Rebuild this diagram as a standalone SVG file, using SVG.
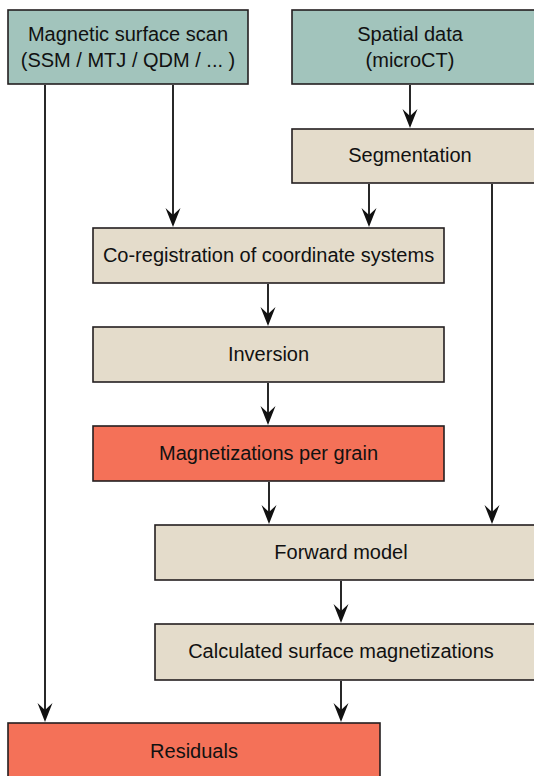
<svg xmlns="http://www.w3.org/2000/svg" width="534" height="776" viewBox="0 0 534 776">
<defs>
<style>
.box{stroke:#231f20;stroke-width:1.6}
.teal{fill:#a2c4bc}
.beige{fill:#e4dccb}
.red{fill:#f47158}
text{font-family:"Liberation Sans",Arial,sans-serif;font-size:20px;fill:#111;text-anchor:middle}
.conn line{stroke:#111;stroke-width:1.8;marker-end:url(#arr)}
</style>
<marker id="arr" markerUnits="userSpaceOnUse" markerWidth="22" markerHeight="20" viewBox="-20 -10 22 20" refX="-12" refY="0" orient="auto">
<path d="M0,0 L-19,-7.5 L-12,0 L-19,7.5 Z" fill="#111"/>
</marker>
</defs>
<rect width="534" height="776" fill="#fff"/>
<g id="n-scan"><rect class="box teal" x="8" y="10" width="240" height="74"/><text x="128" y="41">Magnetic surface scan</text><text x="128" y="67">(SSM / MTJ / QDM / ... )</text></g>
<g id="n-spatial"><rect class="box teal" x="292" y="10" width="250" height="74"/><text x="410" y="41">Spatial data</text><text x="410" y="67">(microCT)</text></g>
<g id="n-seg"><rect class="box beige" x="292" y="129" width="250" height="54"/><text x="410" y="162">Segmentation</text></g>
<g id="n-coreg"><rect class="box beige" x="93" y="228" width="351" height="55"/><text x="268.5" y="262">Co-registration of coordinate systems</text></g>
<g id="n-inv"><rect class="box beige" x="93" y="327" width="351" height="55"/><text x="268.5" y="361">Inversion</text></g>
<g id="n-mag"><rect class="box red" x="93" y="426" width="351" height="55"/><text x="268.5" y="460">Magnetizations per grain</text></g>
<g id="n-fwd"><rect class="box beige" x="155" y="525" width="390" height="55"/><text x="341" y="559">Forward model</text></g>
<g id="n-calc"><rect class="box beige" x="155" y="624" width="390" height="56"/><text x="341" y="658">Calculated surface magnetizations</text></g>
<g id="n-res"><rect class="box red" x="8" y="723" width="372" height="70"/><text x="194" y="758">Residuals</text></g>
<g class="conn" id="connectors">
<line x1="45" y1="85" x2="45" y2="710"/>
<line x1="173" y1="85" x2="173" y2="215"/>
<line x1="410" y1="85" x2="410" y2="116"/>
<line x1="369" y1="184" x2="369" y2="215"/>
<line x1="492" y1="184" x2="492" y2="512"/>
<line x1="268" y1="284" x2="268" y2="314"/>
<line x1="268" y1="383" x2="268" y2="413"/>
<line x1="269" y1="482" x2="269" y2="512"/>
<line x1="341" y1="581" x2="341" y2="611"/>
<line x1="341" y1="681" x2="341" y2="710"/>
</g>
</svg>
